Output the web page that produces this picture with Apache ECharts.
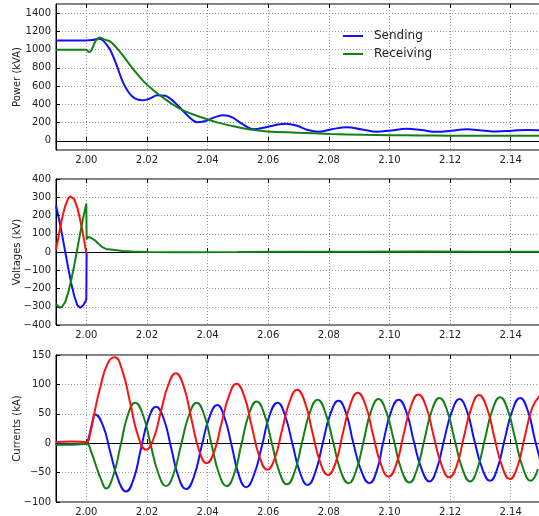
<!DOCTYPE html>
<html>
<head>
<meta charset="utf-8">
<script src="https://cdn.jsdelivr.net/npm/echarts@6/dist/echarts.min.js"></script>
<style>
  html, body { margin: 0; padding: 0; background: #fff; }
  #main { width: 539px; height: 516px; }
</style>
</head>
<body>
<div id="main"></div>
<script>
var legendNames = ['Sending', 'Receiving'];
var axisNames = ['Power (kVA)', 'Voltages (kV)', 'Currents (kA)'];

// power [time s, kVA]
var sendingPower = [
  [1.990, 1100], [1.995, 1100], [2.000, 1100], [2.002, 1105], [2.004, 1118], [2.0055, 1100],
  [2.007, 1040], [2.008, 990], [2.010, 830], [2.012, 650], [2.014, 530], [2.016, 465],
  [2.0184, 444], [2.021, 465], [2.0235, 500], [2.026, 495], [2.028, 455], [2.031, 360],
  [2.034, 260], [2.0365, 205], [2.039, 215], [2.0425, 260], [2.0453, 280], [2.048, 260],
  [2.051, 195], [2.0552, 128], [2.058, 140], [2.0625, 175], [2.066, 188], [2.0695, 165],
  [2.073, 120], [2.0765, 100], [2.081, 128], [2.086, 150], [2.091, 125], [2.0958, 100],
  [2.1005, 115], [2.1057, 132], [2.1105, 118], [2.1156, 100], [2.1205, 112], [2.1255, 127],
  [2.1305, 115], [2.1354, 102], [2.1405, 112], [2.1455, 120], [2.1495, 116]
];
var receivingPower = [
  [1.990, 1000], [1.995, 1000], [2.000, 1000], [2.0008, 975], [2.0015, 985], [2.003, 1090],
  [2.0044, 1132], [2.006, 1110], [2.0078, 1090], [2.010, 1020], [2.0123, 925], [2.0156, 780],
  [2.0189, 652], [2.0222, 553], [2.0255, 470], [2.0288, 393], [2.0321, 331], [2.0376, 262],
  [2.0431, 203], [2.0486, 160], [2.0541, 124], [2.0596, 104], [2.0695, 90], [2.0805, 76],
  [2.0915, 66], [2.100, 62], [2.110, 59], [2.120, 57], [2.130, 56], [2.1495, 55]
];

// voltages [time s, kV]
var voltageBlue = [
  [1.990, 255], [1.991, 180], [1.992, 95], [1.993, 5], [1.994, -85], [1.995, -170],
  [1.996, -240], [1.997, -290], [1.998, -305], [1.999, -292], [2.000, -262], [2.0001, 0]
];
var voltageRed = [
  [1.990, 10], [1.991, 100], [1.992, 185], [1.993, 250], [1.994, 293], [1.9947, 305],
  [1.996, 290], [1.997, 245], [1.998, 175], [1.999, 90], [2.000, -5]
];
var voltageGreen = [
  [1.990, -285], [1.9913, -305], [1.992, -300], [1.993, -275], [1.994, -225], [1.995, -155],
  [1.996, -75], [1.997, 15], [1.998, 105], [1.999, 190], [2.000, 265], [2.0001, 70],
  [2.0005, 82], [2.001, 75], [2.0015, 78], [2.002, 70], [2.003, 62], [2.004, 45],
  [2.005, 30], [2.0065, 17], [2.008, 14], [2.010, 10], [2.012, 6], [2.015, 3],
  [2.020, 0], [2.030, -1], [2.050, 0], [2.070, 2], [2.090, 2], [2.110, 3], [2.130, 2], [2.150, 2]
];

// currents [time s, kA]
var currentRed = [
  [1.990, 2], [1.995, 3], [2.000, 2], [2.0012, 15], [2.0024, 45], [2.0046, 95], [2.0070, 135],
  [2.0093, 146], [2.0119, 123], [2.0145, 68], [2.0171, 12], [2.0197, -11],
  [2.0222, 8], [2.0246, 54], [2.0271, 100], [2.0295, 119],
  [2.0321, 97], [2.0346, 43], [2.0372, -12], [2.0397, -34],
  [2.0422, -14], [2.0446, 34], [2.0471, 81], [2.0495, 101],
  [2.0521, 80], [2.0546, 28], [2.0572, -24], [2.0597, -45],
  [2.0622, -25], [2.0646, 23], [2.0671, 71], [2.0695, 91],
  [2.0721, 70], [2.0746, 18], [2.0772, -33], [2.0797, -54],
  [2.0822, -34], [2.0846, 16], [2.0871, 66], [2.0895, 86],
  [2.0921, 65], [2.0946, 14], [2.0972, -36], [2.0997, -57],
  [2.1022, -37], [2.1046, 13], [2.1071, 63], [2.1095, 83],
  [2.1121, 62], [2.1146, 12], [2.1172, -37], [2.1197, -58],
  [2.1222, -38], [2.1246, 12], [2.1271, 61], [2.1295, 82],
  [2.1321, 61], [2.1346, 10], [2.1372, -40], [2.1397, -61],
  [2.1422, -40], [2.1446, 10], [2.1471, 60], [2.1495, 80]
];
var currentBlue = [
  [1.990, -2], [1.995, -2], [2.000, -1], [2.0007, 8], [2.0015, 25], [2.0022, 40], [2.0029, 49],
  [2.0055, 30], [2.008, -17], [2.0106, -63], [2.0131, -82],
  [2.0156, -61], [2.018, -10], [2.0205, 41], [2.023, 62],
  [2.0255, 42], [2.028, -8], [2.0304, -57], [2.0329, -78],
  [2.0355, -57], [2.038, -6], [2.0406, 44], [2.0432, 65],
  [2.0455, 45], [2.048, -5], [2.0503, -54], [2.0527, -75],
  [2.0553, -54], [2.058, -3], [2.0605, 48], [2.0631, 69],
  [2.0655, 48], [2.068, -1], [2.0705, -50], [2.073, -71],
  [2.0755, -50], [2.078, 0], [2.0806, 51], [2.0832, 72],
  [2.0857, 51], [2.088, 2], [2.0907, -47], [2.0934, -68],
  [2.0958, -47], [2.098, 3], [2.1005, 53], [2.103, 74],
  [2.1056, 53], [2.108, 4], [2.1106, -44], [2.1132, -65],
  [2.1156, -44], [2.118, 5], [2.1206, 54], [2.1231, 75],
  [2.1256, 54], [2.128, 5], [2.1306, -43], [2.1332, -64],
  [2.1356, -43], [2.138, 6], [2.1406, 56], [2.1431, 77],
  [2.1456, 56], [2.148, 6], [2.1505, -44]
];
var currentGreen = [
  [1.990, -2], [1.995, -2], [2.000, -1], [2.0016, -15], [2.0033, -40], [2.0049, -62], [2.0065, -77],
  [2.0089, -55], [2.0113, -4], [2.0137, 48], [2.0161, 69],
  [2.0187, 48], [2.0212, -2], [2.0238, -52], [2.0263, -73],
  [2.0288, -52], [2.0313, -2], [2.0339, 48], [2.0364, 69],
  [2.0389, 48], [2.0413, -2], [2.0438, -52], [2.0463, -73],
  [2.0488, -52], [2.0512, -1], [2.0537, 50], [2.0562, 71],
  [2.0587, 50], [2.0612, 0], [2.0637, -49], [2.0662, -70],
  [2.0687, -49], [2.0712, 2], [2.0738, 53], [2.0763, 74],
  [2.0788, 53], [2.0814, 3], [2.0839, -47], [2.0865, -68],
  [2.089, -47], [2.0915, 4], [2.0939, 54], [2.0964, 75],
  [2.0989, 54], [2.1015, 4], [2.104, -46], [2.1066, -67],
  [2.109, -46], [2.1115, 5], [2.114, 56], [2.1165, 77],
  [2.119, 56], [2.1215, 6], [2.1241, -44], [2.1266, -65],
  [2.129, -44], [2.1315, 7], [2.134, 57], [2.1365, 78],
  [2.139, 57], [2.1415, 7], [2.1441, -43], [2.1466, -64], [2.149, -44]
];

var BLUE = '#1010ff', GREEN = '#128012', RED = '#ff1010';
var FONT = 'DejaVu Sans';
var grids = [
  { left: 56, width: 485, top: 4, height: 146 },
  { left: 56, width: 485, top: 179, height: 146 },
  { left: 56, width: 485, top: 355, height: 147 }
];
var yRanges = [[-100, 1500], [-400, 400], [-100, 150]];

function minus(v) { return String(v).replace('-', '\u2212'); }

var gridOpts = [], xAxes = [], yAxes = [];
grids.forEach(function (g, i) {
  gridOpts.push(Object.assign({ show: true, borderColor: '#000', borderWidth: 1,
    containLabel: false, outerBoundsMode: 'none' }, g));
  xAxes.push({
    type: 'value', gridIndex: i, min: 1.99, max: 2.15, splitNumber: 8,
    axisLine: { show: true, lineStyle: { color: '#000', width: 1 } },
    axisTick: { show: true, inside: true, length: 4, lineStyle: { color: '#000' } },
    axisLabel: { color: '#222', fontFamily: FONT, fontSize: 10, margin: 5,
      showMinLabel: false, showMaxLabel: false,
      formatter: function (v) { return v.toFixed(2); } },
    splitLine: { show: true, lineStyle: { color: '#999', type: [1, 2], width: 1 } }
  });
  xAxes.push({
    type: 'value', gridIndex: i, position: 'top', min: 1.99, max: 2.15, splitNumber: 8,
    axisLine: { show: false },
    axisTick: { show: true, inside: true, length: 4, lineStyle: { color: '#000' } },
    axisLabel: { show: false }, splitLine: { show: false }
  });
  var yr = yRanges[i];
  yAxes.push({
    type: 'value', gridIndex: i, min: yr[0], max: yr[1],
    splitNumber: i === 0 ? 8 : undefined,
    interval: i === 1 ? 100 : (i === 2 ? 50 : undefined),
    name: axisNames[i], nameLocation: 'middle', nameGap: 34, nameMoveOverlap: false,
    nameTextStyle: { color: '#222', fontFamily: FONT, fontSize: 10 },
    axisLine: { show: true, lineStyle: { color: '#000', width: 1 } },
    axisTick: { show: true, inside: true, length: 4, lineStyle: { color: '#000' } },
    axisLabel: { color: '#222', fontFamily: FONT, fontSize: 10, margin: 5,
      showMinLabel: i !== 0, showMaxLabel: i !== 0, formatter: minus },
    splitLine: { show: true, lineStyle: { color: '#999', type: [1, 2], width: 1 } }
  });
});

function line(name, data, color, panel, smooth) {
  return {
    name: name, type: 'line', data: data, xAxisIndex: panel * 2, yAxisIndex: panel,
    showSymbol: false, symbol: 'none', smooth: smooth, animation: false,
    lineStyle: { color: color, width: 2 }, itemStyle: { color: color }
  };
}

var myChart = echarts.init(document.getElementById('main'));

option = {
  backgroundColor: '#fff',
  animation: false,
  grid: gridOpts,
  xAxis: xAxes,
  yAxis: yAxes,
  legend: {
    data: legendNames, orient: 'vertical', left: 338, top: 24,
    icon: 'rect', itemWidth: 20, itemHeight: 2, itemGap: 4,
    textStyle: { color: '#222', fontFamily: FONT, fontSize: 12, lineHeight: 14,
      padding: [0, 0, 0, 6] }
  },
  series: [
    line(legendNames[0], sendingPower, BLUE, 0, 0.4),
    line(legendNames[1], receivingPower, GREEN, 0, 0.4),
    line('vb', voltageBlue, BLUE, 1, false),
    line('vr', voltageRed, RED, 1, false),
    line('vg', voltageGreen, GREEN, 1, false),
    line('ib', currentBlue, BLUE, 2, 0.5),
    line('ig', currentGreen, GREEN, 2, 0.5),
    line('ir', currentRed, RED, 2, 0.5)
  ]
};

myChart.setOption(option);
</script>
</body>
</html>
